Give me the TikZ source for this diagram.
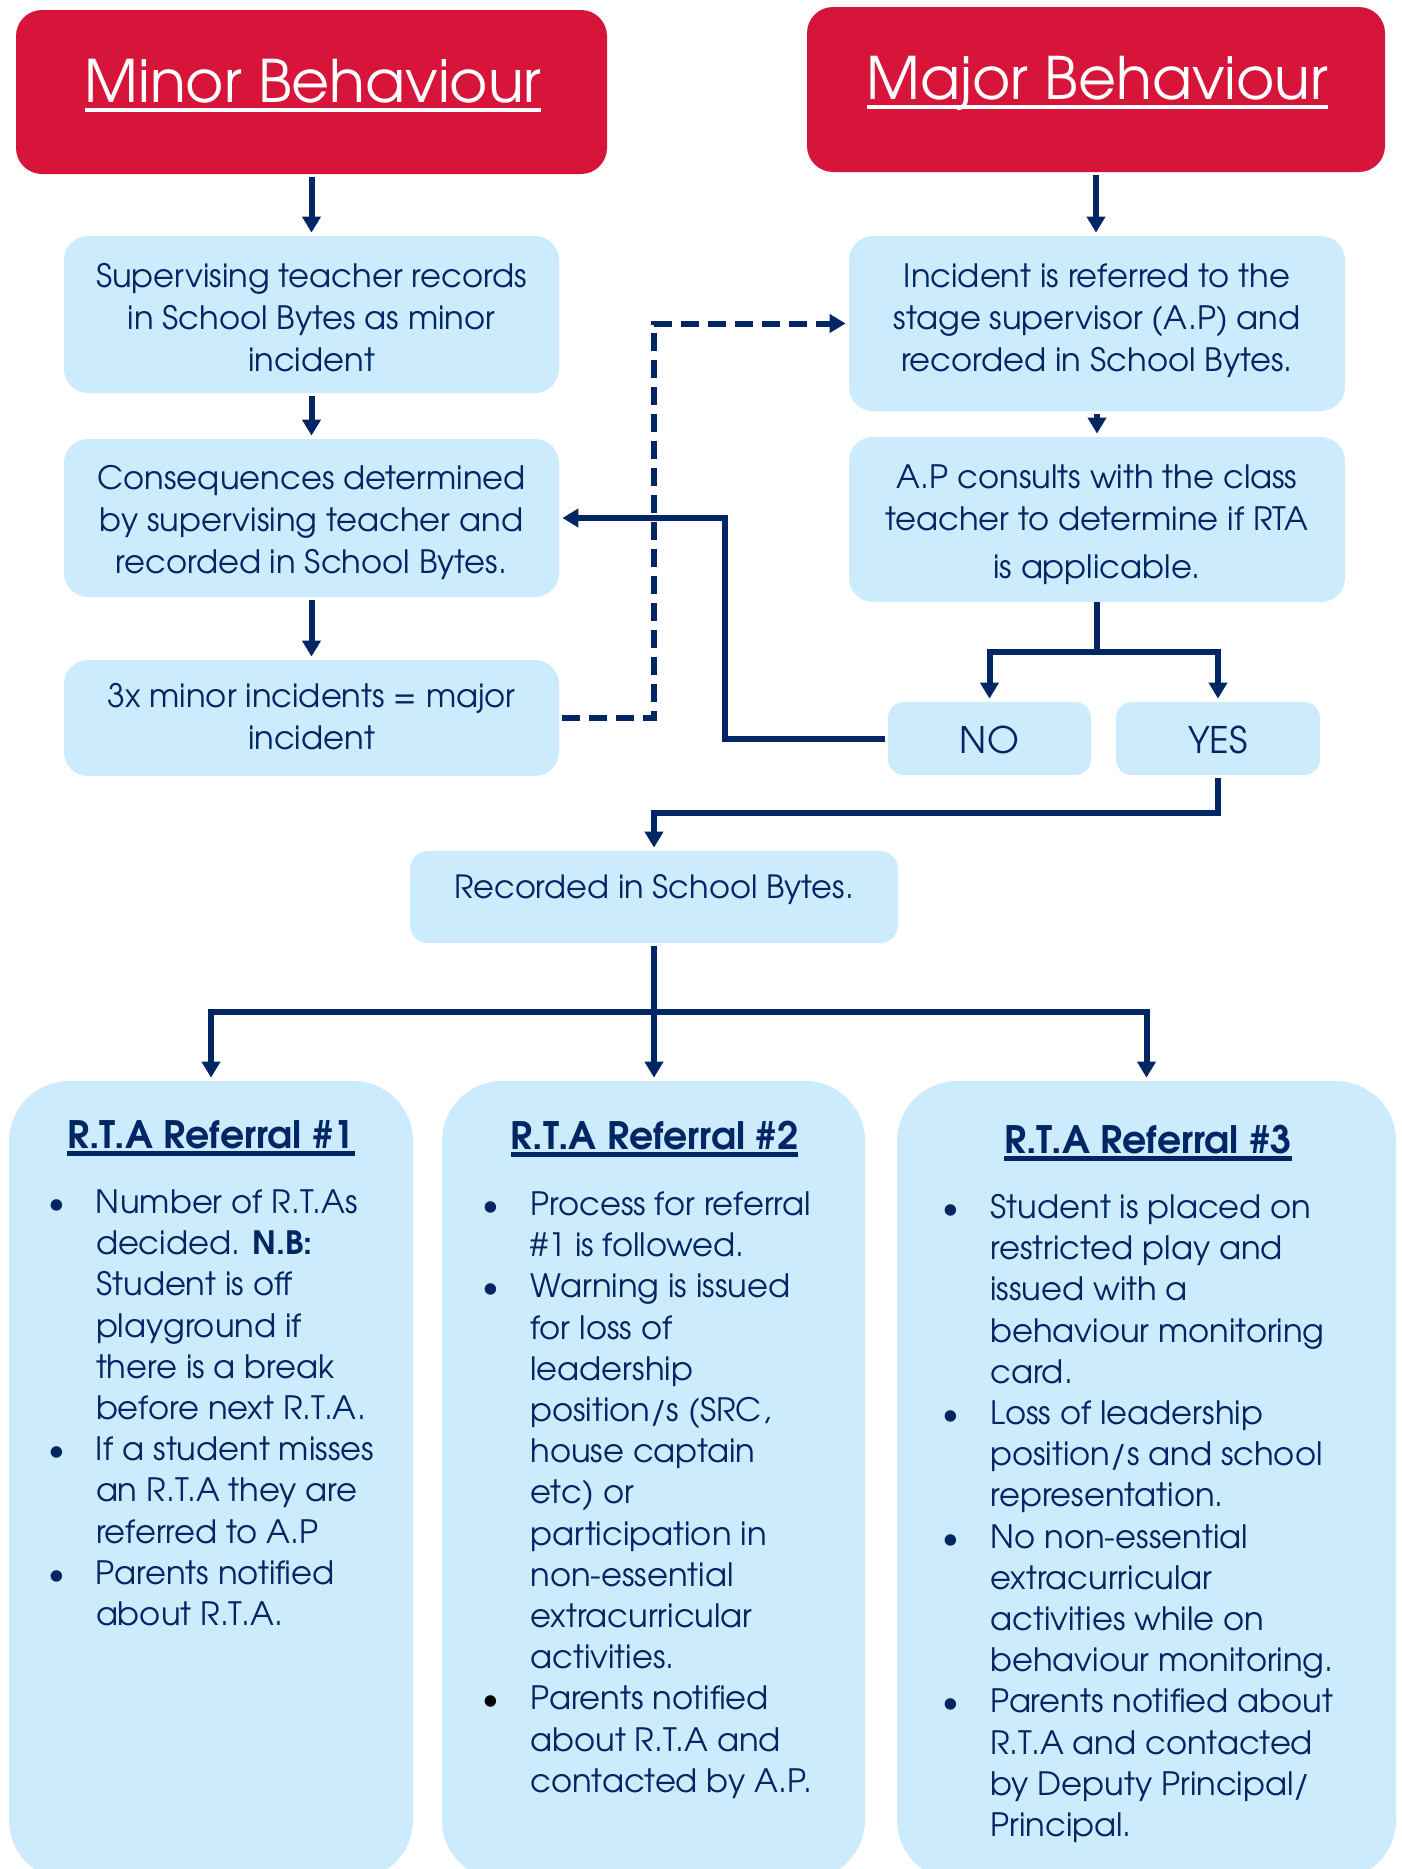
\documentclass[tikz,border=0pt]{standalone}
\usepackage{fontspec}
\setmainfont{texgyreadventor}[Extension=.otf,UprightFont=*-regular,BoldFont=*-bold,ItalicFont=*-italic,BoldItalicFont=*-bolditalic]
\usetikzlibrary{arrows.meta}
\definecolor{navy}{HTML}{002664}
\definecolor{nswred}{HTML}{D7153A}
\definecolor{pale}{HTML}{CCEBFC}
\newcommand{\myul}[3]{\setbox0=\hbox{#3}\rlap{\vrule height -#1 depth \dimexpr#1+#2\relax width \wd0}\box0}
\newcommand{\bul}{\makebox[24pt][l]{\textbullet}}
\begin{document}
\begin{tikzpicture}[x=0.5pt,y=-0.5pt,
  redbox/.style={fill=nswred, draw=none, rounded corners=13pt, inner sep=0pt},
  bluebox/.style={fill=pale, draw=none, rounded corners=12pt, inner sep=0pt},
  rtabox/.style={fill=pale, draw=none, rounded corners=30pt, inner sep=0pt},
  ttl/.style={text=white, inner sep=0pt, anchor=base, font=\fontsize{29.3}{34}\selectfont},
  txtL/.style={text=navy, align=center, inner sep=0pt, anchor=north, font=\fontsize{16.1}{21}\selectfont},
  txtR/.style={text=navy, align=center, inner sep=0pt, anchor=north, font=\fontsize{16.1}{21}\selectfont},
  one/.style={text=navy, inner sep=0pt, anchor=base, font=\fontsize{16}{21}\selectfont},
  yn/.style={text=navy, inner sep=0pt, anchor=base, font=\fontsize{18.3}{21}\selectfont},
  rtattl/.style={text=navy, inner sep=0pt, anchor=base, font=\bfseries\fontsize{18.9}{22}\selectfont},
  list/.style={text=navy, inner sep=0pt, anchor=north west, font=\fontsize{16.1}{20.6}\selectfont},
  line/.style={draw=navy, line width=3pt},
  conn/.style={line, -{Triangle[width=9pt,length=8pt]}, shorten >=1.5pt, shorten <=1.5pt},
  dashconn/.style={conn, dash pattern=on 9pt off 4.5pt}
]
\useasboundingbox (0,0) rectangle (1402,1869);

% boxes
\node[redbox, minimum width=295.5pt, minimum height=82pt] (minor) at (311.5,92) {};
\node[redbox, minimum width=289pt, minimum height=82.5pt] (major) at (1096,89.5) {};
\node[bluebox, minimum width=247.5pt, minimum height=78.5pt] (b1) at (311.5,314.5) {};
\node[bluebox, minimum width=247.5pt, minimum height=79pt] (b2) at (311.5,518) {};
\node[bluebox, minimum width=247.5pt, minimum height=58pt] (b3) at (311.5,718) {};
\node[bluebox, minimum width=248pt, minimum height=87.5pt] (m1) at (1097,323.5) {};
\node[bluebox, minimum width=248pt, minimum height=82.5pt] (m2) at (1097,519.5) {};
\node[bluebox, rounded corners=8pt, minimum width=101.5pt, minimum height=36.5pt] (no) at (989.5,738.5) {};
\node[bluebox, rounded corners=8pt, minimum width=102pt, minimum height=36.5pt] (yes) at (1218,738.5) {};
\node[bluebox, rounded corners=9pt, minimum width=244pt, minimum height=46pt] (rec) at (654,897) {};
\node[rtabox, minimum width=202pt, minimum height=399.5pt] (rta1) at (211,1480.5) {};
\node[rtabox, minimum width=211.5pt, minimum height=399.5pt] (rta2) at (653.5,1480.5) {};
\node[rtabox, minimum width=249.5pt, minimum height=399.5pt] (rta3) at (1146.5,1480.5) {};

% texts
\node[ttl] (minort) at (313,102) {\myul{2.8pt}{2.1pt}{Minor Behaviour}};
\node[ttl] (majort) at (1097.5,99) {\myul{2.8pt}{2.1pt}{Major Behaviour}};
\node[txtL] (b1t) at (311.5,257.6) {\strut Supervising teacher records\\in School Bytes as minor\\incident};
\node[txtL] (b2t) at (311.5,459.6) {\strut Consequences determined\\by supervising teacher and\\recorded in School Bytes.};
\node[txtL] (b3t) at (311.5,677.6) {\strut 3x minor incidents = major\\incident};
\node[txtR] (m1t) at (1097,257.6) {\strut Incident is referred to the\\stage supervisor (A.P) and\\recorded in School Bytes.};
\node[txtR] (m2t) at (1097,458.6) {\strut A.P consults with the class\\teacher to determine if RTA\\[3pt]is applicable.};
\node[yn] (not) at (989.5,753) {NO};
\node[yn] (yest) at (1218,753) {YES};
\node[one] (rect) at (654,898) {Recorded in School Bytes.};

\node[rtattl] (r1h) at (211,1148) {\myul{1.6pt}{2.2pt}{R.T.A Referral \#1}};
\node[rtattl] (r2h) at (654.5,1149) {\myul{1.6pt}{2.2pt}{R.T.A Referral \#2}};
\node[rtattl] (r3h) at (1148,1153) {\myul{1.6pt}{2.2pt}{R.T.A Referral \#3}};

\node[list] (r1l) at (47.6,1184.2) {\begin{tabular}{@{}l@{}l@{}}
\bul & Number of R.T.As\\
 & decided. \textbf{N.B:}\\
 & Student is off\\
 & playground if\\
 & there is a break\\
 & before next R.T.A.\\
\bul & If a student misses\\
 & an R.T.A they are\\
 & referred to A.P\\
\bul & Parents notified\\
 & about R.T.A.
\end{tabular}};

\node[list] (r2l) at (482,1186.2) {\begin{tabular}{@{}l@{}l@{}}
\bul & Process for referral\\
 & \#1 is followed.\\
\bul & Warning is issued\\
 & for loss of\\
 & leadership\\
 & position/s (SRC,\\
 & house captain\\
 & etc) or\\
 & participation in\\
 & non-essential\\
 & extracurricular\\
 & activities.\\
\textcolor{black}{\bul} & Parents notified\\
 & about R.T.A and\\
 & contacted by A.P.
\end{tabular}};

\node[list] (r3l) at (942,1189.2) {\begin{tabular}{@{}l@{}l@{}}
\bul & Student is placed on\\
 & restricted play and\\
 & issued with a\\
 & behaviour monitoring\\
 & card.\\
\bul & Loss of leadership\\
 & position/s and school\\
 & representation.\\
\bul & No non-essential\\
 & extracurricular\\
 & activities while on\\
 & behaviour monitoring.\\
\bul & Parents notified about\\
 & R.T.A and contacted\\
 & by Deputy Principal/\\
 & Principal.
\end{tabular}};

% connectors
\draw[conn] (minor.south) -- (b1.north);
\draw[conn] (b1.south) -- (b2.north);
\draw[conn] (b2.south) -- (b3.north);
\draw[conn] (major.south) -- (major.south |- m1.north);
\draw[conn] (m1.south) -- (m2.north);
\coordinate (split) at (1097,652);
\draw[line] (m2.south) -- (split);
\draw[conn, shorten <=0pt] (split) -| (no.north);
\draw[conn, shorten <=0pt] (split) -| (yes.north);
\draw[conn] (no.west) -- ++(-163,0) |- (b2.east);
\draw[conn] (yes.south) -- ++(0,38) -| (rec.north);
\draw[dashconn] (b3.east) -- ++(95,0) |- (m1.west);
\coordinate (fork) at (653.5,1012);
\draw[conn] (rec.south) -- (rec.south |- rta2.north);
\draw[conn, shorten <=0pt] (fork) -| (rta1.north);
\draw[conn, shorten <=0pt] (fork) -| (rta3.north);
\end{tikzpicture}
\end{document}
